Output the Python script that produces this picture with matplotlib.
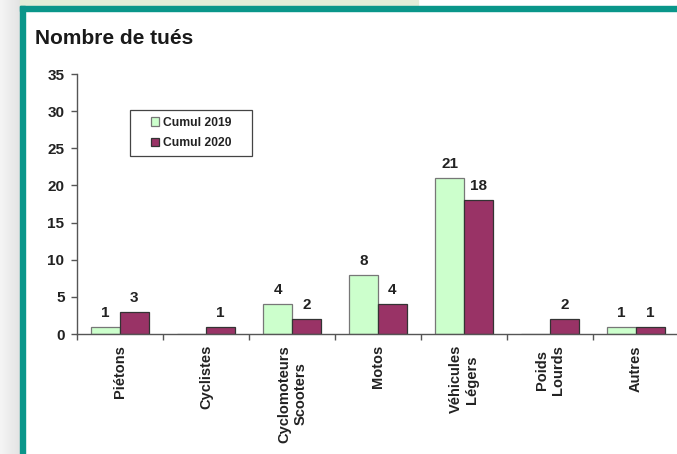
import matplotlib
matplotlib.use('Agg')
import matplotlib.pyplot as plt
import numpy as np
from matplotlib.patches import Rectangle
from matplotlib import font_manager

categories = ['Piétons', 'Cyclistes', 'Cyclomoteurs\nScooters', 'Motos',
              'Véhicules\nLégers', 'Poids\nLourds', 'Autres']
cumul_2019 = [1, 0, 4, 8, 21, 0, 1]
cumul_2020 = [3, 1, 2, 4, 18, 2, 1]
series_labels = ['Cumul 2019', 'Cumul 2020']
title = 'Nombre de tués'
yticks = [0, 5, 10, 15, 20, 25, 30, 35]

plt.rcParams['font.family'] = ['Liberation Sans', 'DejaVu Sans']
TXT = '#222222'
TEAL = '#0A968A'

W, H = 677, 454
fig = plt.figure(figsize=(W / 100, H / 100), dpi=100)
fig.patch.set_facecolor('white')


def fx(px):
    return px / W


def fy(py):
    return 1 - py / H


# background decorations
grad_ax = fig.add_axes([0, 0, fx(20), 1], zorder=0)
grad = np.linspace(0.96, 0.89, 64).reshape(1, -1)
grad_ax.imshow(grad, aspect='auto', cmap='gray', vmin=0, vmax=1, extent=[0, 1, 0, 1])
grad_ax.axis('off')
fig.patches.append(Rectangle((fx(20), fy(6)), fx(418) - fx(20), 6 / H,
                             transform=fig.transFigure, color='#E2EDD8', zorder=0))
fig.patches.append(Rectangle((fx(20), 0), 5 / W, fy(6), transform=fig.transFigure,
                             color=TEAL, zorder=1))
fig.patches.append(Rectangle((fx(20), fy(11)), 1 - fx(20), 5 / H, transform=fig.transFigure,
                             color=TEAL, zorder=1))

# title
names = {f.name for f in font_manager.fontManager.ttflist}
if 'Liberation Sans Narrow' in names:
    tfam, tsize = ['Liberation Sans Narrow', 'DejaVu Sans'], 17
else:
    tfam, tsize = ['Liberation Sans', 'DejaVu Sans'], 15
fig.text(fx(35), fy(44), title, family=tfam, fontsize=tsize, fontweight='bold',
         color='#1a1a1a', va='baseline', ha='left')

# main axes
ax = fig.add_axes([fx(77), fy(334), 602 / W, 260 / H])
ax.set_facecolor('none')
x = np.arange(len(categories))
w = 1 / 3
b1 = ax.bar(x - w / 2, cumul_2019, w, color='#CCFFCC', edgecolor='#777777',
            linewidth=0.9, label=series_labels[0])
b2 = ax.bar(x + w / 2, cumul_2020, w, color='#993366', edgecolor='#333333',
            linewidth=0.9, label=series_labels[1])

for xs, vals in ((x - w / 2, cumul_2019), (x + w / 2, cumul_2020)):
    for xi, v in zip(xs, vals):
        if v > 0:
            ax.annotate(str(v), (xi, v), xytext=(0, 5), textcoords='offset points',
                        ha='center', va='bottom', fontsize=11, fontweight='bold', color=TXT)

ax.set_xlim(-0.5, 6.5)
ax.set_ylim(0, 35)
ax.set_yticks(yticks)
ax.set_yticklabels([str(t) for t in yticks], fontsize=11, fontweight='bold', color=TXT)
ax.set_xticks(x)
ax.set_xticklabels(categories, rotation=90, ha='center', va='top', multialignment='center',
                   fontsize=10.5, fontweight='bold', color=TXT)
ax.set_xticks(np.arange(-0.5, 7, 1), minor=True)
ax.tick_params(axis='x', which='major', length=0, pad=8)
ax.tick_params(axis='x', which='minor', length=4, width=1, color='#555555', direction='out')
ax.tick_params(axis='y', length=4, width=1, color='#555555', direction='out', pad=5)
for s in ('top', 'right'):
    ax.spines[s].set_visible(False)
for s in ('left', 'bottom'):
    ax.spines[s].set_color('#555555')
    ax.spines[s].set_linewidth(1)

# legend box
bx0, by0 = (130 - 77) / 602, (334 - 156) / 260
bw, bh = 122 / 602, 46 / 260
ax.add_patch(Rectangle((bx0, by0), bw, bh, transform=ax.transAxes, facecolor='white',
                       edgecolor='#444444', linewidth=0.9, zorder=4))
leg = ax.legend(loc='center', bbox_to_anchor=(bx0 + bw / 2, by0 + bh / 2), frameon=False,
                prop={'weight': 'bold', 'size': 8.7}, handlelength=0.7, handleheight=0.7,
                handletextpad=0.3, labelspacing=0.7, borderpad=0)
leg.set_zorder(5)
for t in leg.get_texts():
    t.set_color(TXT)

fig.savefig('out.png', dpi=100)
